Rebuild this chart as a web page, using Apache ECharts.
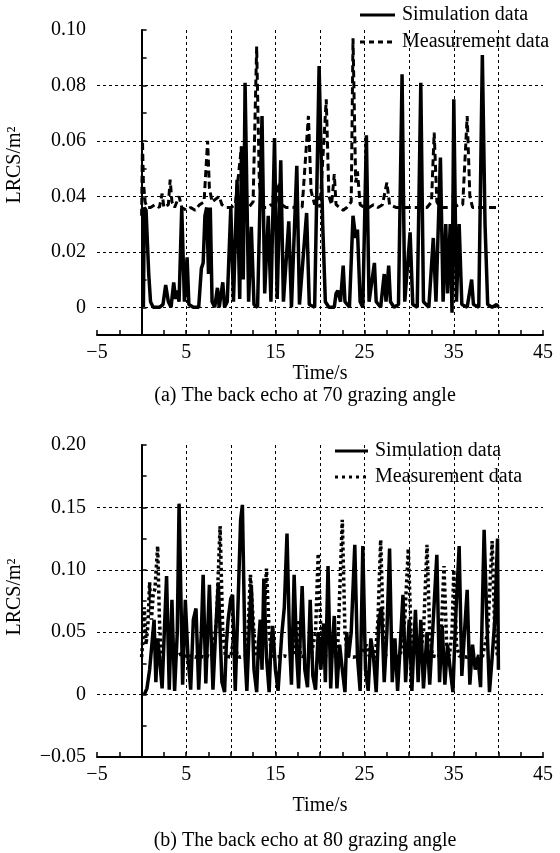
<!DOCTYPE html>
<html>
<head>
<meta charset="utf-8">
<title>LRCS back echo</title>
<script src="https://cdn.jsdelivr.net/npm/echarts@6.0.0/dist/echarts.min.js"></script>
<style>
  html, body { margin: 0; padding: 0; background: #fff; }
  #chart { width: 560px; height: 853px; }
</style>
</head>
<body>
<div id="chart"></div>
<script>
// [time (s), LRCS (m^2)]
const simulation70 = [
  [0.2, 0], [0.3, 0.036], [0.5, 0.035], [0.8, 0.012], [1.0, 0.002], [1.3, 0], [2.0, 0], [2.4, 0.001], [2.7, 0.008],
  [3.0, 0.002], [3.3, 0], [3.6, 0.009], [3.8, 0.003], [4.0, 0.006], [4.2, 0.002], [4.5, 0.036], [4.8, 0.002],
  [5.1, 0.018], [5.3, 0.001], [5.8, 0], [6.4, 0], [6.7, 0.014], [6.9, 0.016], [7.1, 0.033], [7.3, 0.036],
  [7.5, 0.012], [7.7, 0.036], [7.9, 0.002], [8.2, 0], [8.5, 0.007], [8.7, 0], [9.1, 0.009], [9.3, 0], [9.6, 0.002],
  [10.0, 0.036], [10.3, 0.002], [10.7, 0.046], [11.0, 0.003], [11.2, 0.058], [11.4, 0.01], [11.6, 0.081],
  [12.0, 0.002], [12.3, 0.029], [12.6, 0.001], [13.0, 0], [13.5, 0.069], [13.8, 0.005], [14.2, 0.033],
  [14.5, 0.002], [14.9, 0.061], [15.2, 0.003], [15.6, 0.053], [15.9, 0.002], [16.5, 0.031], [16.8, 0],
  [17.4, 0.051], [17.7, 0.001], [18.5, 0.034], [18.8, 0.001], [19.4, 0], [19.9, 0.087], [20.3, 0.03],
  [20.6, 0.002], [21.0, 0], [21.6, 0], [21.8, 0.005], [22.0, 0.006], [22.3, 0.002], [22.6, 0.015], [22.8, 0.002],
  [23.3, 0], [23.7, 0.033], [24.0, 0.025], [24.2, 0.028], [24.5, 0.002], [24.8, 0], [25.2, 0.062], [25.5, 0.002],
  [26.1, 0.016], [26.3, 0.002], [26.8, 0], [27.2, 0.012], [27.4, 0.002], [27.7, 0.015], [27.9, 0.002], [28.3, 0],
  [28.8, 0.001], [29.2, 0.084], [29.5, 0.002], [30.1, 0.027], [30.4, 0.001], [30.9, 0], [31.3, 0.081],
  [31.6, 0.002], [32.2, 0], [32.7, 0.025], [33.0, 0.002], [33.5, 0.054], [33.8, 0.002], [34.1, 0.03],
  [34.3, 0.005], [34.6, 0.03], [34.8, -0.002], [35.0, 0.075], [35.3, 0.002], [35.6, 0.03], [35.9, 0.001],
  [36.5, 0], [37.0, 0.01], [37.2, 0.001], [37.8, 0], [38.2, 0.091], [38.5, 0.03], [38.8, 0.001], [39.3, 0],
  [39.8, 0.001], [40.0, 0]
];
const measurement70 = [
  [0.0, 0.033], [0.1, 0.06], [0.2, 0.045], [0.4, 0.038], [0.6, 0.036], [1.0, 0.036], [1.5, 0.037], [2.0, 0.036],
  [2.3, 0.041], [2.5, 0.036], [3.0, 0.037], [3.2, 0.046], [3.4, 0.038], [3.7, 0.036], [4.2, 0.04], [4.5, 0.036],
  [5.0, 0.035], [5.5, 0.036], [6.0, 0.035], [6.5, 0.037], [7.0, 0.038], [7.4, 0.06], [7.6, 0.043], [7.9, 0.038],
  [8.3, 0.039], [8.7, 0.04], [9.0, 0.037], [9.5, 0.036], [10.0, 0.036], [10.5, 0.037], [11.2, 0.058],
  [11.5, 0.038], [12.0, 0.036], [12.5, 0.038], [12.9, 0.094], [13.2, 0.045], [13.5, 0.036], [14.0, 0.036],
  [14.5, 0.037], [15.0, 0.036], [15.4, 0.045], [15.7, 0.037], [16.2, 0.036], [17.0, 0.036], [17.5, 0.037],
  [18.0, 0.036], [18.7, 0.069], [19.0, 0.042], [19.4, 0.037], [19.7, 0.04], [20.0, 0.036], [20.7, 0.075],
  [21.0, 0.04], [21.3, 0.037], [21.6, 0.048], [21.8, 0.037], [22.2, 0.036], [22.6, 0.035], [23.0, 0.036],
  [23.5, 0.038], [23.7, 0.097], [24.0, 0.045], [24.2, 0.049], [24.5, 0.037], [25.0, 0.036], [25.5, 0.036],
  [26.0, 0.037], [26.5, 0.036], [27.0, 0.037], [27.5, 0.045], [27.8, 0.037], [28.5, 0.036], [29.0, 0.036],
  [29.5, 0.036], [30.0, 0.036], [30.5, 0.036], [31.0, 0.036], [31.5, 0.036], [32.0, 0.036], [32.5, 0.038],
  [32.8, 0.063], [33.1, 0.038], [33.5, 0.036], [34.0, 0.036], [34.5, 0.036], [35.0, 0.036], [35.5, 0.037],
  [36.0, 0.037], [36.5, 0.069], [36.8, 0.04], [37.1, 0.036], [37.5, 0.036], [38.0, 0.036], [38.5, 0.036],
  [39.0, 0.036], [39.5, 0.036], [40.0, 0.036]
];
const simulation80 = [
  [0.3, 0], [0.6, 0.005], [0.9, 0.02], [1.1, 0.036], [1.4, 0.06], [1.6, 0.01], [1.8, 0.045], [2.0, 0.03],
  [2.3, 0.005], [2.6, 0.06], [2.8, 0.095], [3.1, 0.004], [3.4, 0.076], [3.7, 0.003], [4.0, 0.05], [4.2, 0.153],
  [4.6, 0.008], [4.9, 0.076], [5.2, 0.03], [5.5, 0.004], [5.8, 0.06], [6.1, 0.069], [6.4, 0.004], [6.7, 0.05],
  [6.9, 0.096], [7.2, 0.009], [7.6, 0.088], [8.0, 0.004], [8.3, 0.05], [8.6, 0.09], [9.0, 0.01], [9.3, 0.002],
  [9.5, 0.04], [9.7, 0.06], [10.0, 0.077], [10.2, 0.08], [10.5, 0.003], [10.8, 0.07], [11.1, 0.14],
  [11.3, 0.152], [11.6, 0.03], [11.8, 0.003], [12.1, 0.06], [12.3, 0.088], [12.6, 0.02], [12.9, 0.002],
  [13.1, 0.04], [13.3, 0.06], [13.5, 0.02], [13.7, 0.093], [14.0, 0.03], [14.3, 0.002], [14.5, 0.04],
  [14.7, 0.055], [15.0, 0.02], [15.3, 0.003], [15.7, 0.047], [16.0, 0.07], [16.3, 0.129], [16.6, 0.04],
  [16.8, 0.008], [17.1, 0.096], [17.4, 0.03], [17.6, 0.005], [17.8, 0.05], [18.0, 0.087], [18.3, 0.02],
  [18.6, 0.006], [18.9, 0.076], [19.2, 0.015], [19.5, 0.004], [19.8, 0.05], [20.1, 0.02], [20.4, 0.057],
  [20.6, 0.01], [20.9, 0.103], [21.2, 0.005], [21.4, 0.04], [21.6, 0.063], [21.9, 0.005], [22.2, 0.04],
  [22.5, 0.02], [22.8, 0.002], [23.0, 0.05], [23.2, 0.03], [23.5, 0.05], [23.9, 0.12], [24.2, 0.03],
  [24.5, 0.003], [24.8, 0.119], [25.1, 0.02], [25.4, 0.003], [25.7, 0.045], [26.0, 0.03], [26.3, 0.002],
  [26.6, 0.06], [26.9, 0.07], [27.2, 0.01], [27.5, 0.05], [27.8, 0.117], [28.1, 0.01], [28.4, 0.045],
  [28.7, 0.003], [29.0, 0.04], [29.3, 0.08], [29.6, 0.01], [30.0, 0.06], [30.3, 0.003], [30.7, 0.068],
  [31.0, 0.01], [31.3, 0.06], [31.6, 0.005], [32.0, 0.05], [32.3, 0.008], [32.7, 0.06], [33.1, 0.112],
  [33.4, 0.01], [33.7, 0.055], [34.0, 0.008], [34.3, 0.04], [34.6, 0.02], [34.9, 0.002], [35.2, 0.06],
  [35.6, 0.119], [35.9, 0.015], [36.2, 0.05], [36.5, 0.084], [36.8, 0.008], [37.1, 0.04], [37.4, 0.02],
  [37.7, 0.03], [38.0, 0.006], [38.4, 0.132], [38.7, 0.06], [39.0, 0.002], [39.3, 0.03], [39.6, 0.06],
  [39.9, 0.125], [40.0, 0.02]
];
const measurement80 = [
  [0.0, 0.03], [0.2, 0.05], [0.3, 0.07], [0.5, 0.04], [0.7, 0.055], [0.9, 0.09], [1.1, 0.06], [1.3, 0.08],
  [1.5, 0.085], [1.8, 0.119], [2.0, 0.06], [2.2, 0.031], [2.6, 0.03], [3.0, 0.031], [3.5, 0.03], [4.0, 0.031],
  [4.5, 0.033], [5.0, 0.03], [5.5, 0.031], [6.0, 0.03], [6.5, 0.031], [7.0, 0.03], [7.5, 0.031], [8.0, 0.03],
  [8.4, 0.06], [8.8, 0.135], [9.1, 0.05], [9.4, 0.031], [10.0, 0.03], [10.4, 0.05], [10.7, 0.031], [11.0, 0.03],
  [11.8, 0.031], [12.2, 0.096], [12.5, 0.06], [12.8, 0.031], [13.5, 0.03], [14.0, 0.101], [14.3, 0.05],
  [14.6, 0.031], [15.2, 0.03], [16.0, 0.031], [16.5, 0.03], [17.0, 0.031], [17.5, 0.06], [17.8, 0.031],
  [18.5, 0.03], [19.0, 0.031], [19.5, 0.05], [19.8, 0.113], [20.1, 0.05], [20.4, 0.031], [21.0, 0.03],
  [21.5, 0.031], [22.0, 0.04], [22.5, 0.14], [22.8, 0.05], [23.1, 0.031], [23.7, 0.03], [24.5, 0.031],
  [25.2, 0.04], [25.5, 0.031], [26.2, 0.03], [26.5, 0.06], [26.8, 0.124], [27.1, 0.05], [27.4, 0.031],
  [28.3, 0.03], [29.0, 0.031], [29.5, 0.06], [29.9, 0.117], [30.2, 0.05], [30.5, 0.031], [31.2, 0.03],
  [31.6, 0.05], [32.0, 0.12], [32.3, 0.05], [32.6, 0.031], [33.3, 0.03], [33.6, 0.05], [33.9, 0.103],
  [34.2, 0.04], [34.5, 0.031], [34.8, 0.05], [35.0, 0.1], [35.3, 0.04], [35.6, 0.031], [36.5, 0.03],
  [37.5, 0.031], [38.2, 0.03], [38.8, 0.05], [39.3, 0.123], [39.6, 0.05], [39.9, 0.031]
];

const seriesNames = ["Simulation data", "Measurement data"];
const captions = ["(a) The back echo at 70 grazing angle", "(b) The back echo at 80 grazing angle"];
const xTickLabels = [-5, 5, 15, 25, 35, 45];
const yTickLabels70 = [0, 0.02, 0.04, 0.06, 0.08, 0.1];

const font = "Liberation Serif";
const black = "#000";
const txt = { fontFamily: font, fontSize: 20, color: black };
const gfont = `20px "${font}"`;

const minus = (s) => s.replace("-", "\u2212");

function xAxisFor(gridIndex, nameGap) {
  return {
    type: "value",
    gridIndex,
    min: -5,
    max: 45,
    interval: 5,
    name: "Time/s",
    nameLocation: "middle",
    nameGap,
    nameTextStyle: txt,
    axisLine: { show: true, onZero: false, lineStyle: { color: black, width: 2 } },
    axisTick: { show: true, inside: true, length: 5, lineStyle: { color: black, width: 1.5 } },
    minorTick: { show: true, splitNumber: 2, length: 5, lineStyle: { color: black, width: 1.5 } },
    axisLabel: {
      ...txt,
      margin: 8,
      formatter: (v) => (xTickLabels.includes(Math.round(v)) ? minus(String(Math.round(v))) : ""),
    },
    splitLine: {
      show: true,
      showMinLine: false,
      showMaxLine: false,
      lineStyle: { color: black, width: 1, type: [3, 3] },
    },
  };
}

// legend drawn by hand: a short line sample and its text
function legendRows(x, y, len, gap, dashes) {
  const out = [];
  seriesNames.forEach((name, i) => {
    const yy = y + i * gap;
    out.push({
      type: "line",
      shape: { x1: x, y1: yy, x2: x + len, y2: yy },
      style: { stroke: black, lineWidth: 3, lineDash: dashes[i] },
    });
    out.push({
      type: "text",
      x: x + len + 7,
      y: yy,
      style: { text: name, font: gfont, fill: black, align: "left", verticalAlign: "middle" },
    });
  });
  return out;
}

const chart = echarts.init(document.getElementById("chart"));

const option = {
  animation: false,
  backgroundColor: "#fff",
  grid: [
    { left: 97, top: 30, width: 446, height: 305 },
    { left: 97, top: 445, width: 446, height: 312 },
  ],
  xAxis: [xAxisFor(0, 27), xAxisFor(1, 39)],
  yAxis: [
    {
      type: "value",
      gridIndex: 0,
      min: -0.01,
      max: 0.1,
      interval: 0.01,
      axisLine: { show: true, lineStyle: { color: black, width: 2 } },
      axisTick: { show: true, inside: true, length: 5, lineStyle: { color: black, width: 1.5 } },
      axisLabel: {
        ...txt,
        margin: 11,
        formatter: (v) => {
          const hit = yTickLabels70.find((t) => Math.abs(t - v) < 1e-6);
          if (hit === undefined) return "";
          return hit === 0 ? "0" : hit.toFixed(2);
        },
      },
      splitLine: {
        show: true,
        showMinLine: false,
        showMaxLine: false,
        lineStyle: { color: [black, "transparent"], width: 1, type: [3, 3] },
      },
    },
    {
      type: "value",
      gridIndex: 1,
      min: -0.05,
      max: 0.2,
      interval: 0.05,
      axisLine: { show: true, lineStyle: { color: black, width: 2 } },
      axisTick: { show: true, inside: true, length: 5, lineStyle: { color: black, width: 1.5 } },
      minorTick: { show: true, splitNumber: 2, length: 5, lineStyle: { color: black, width: 1.5 } },
      axisLabel: {
        ...txt,
        margin: 11,
        formatter: (v) => (Math.abs(v) < 1e-6 ? "0" : minus(v.toFixed(2))),
      },
      splitLine: {
        show: true,
        showMinLine: false,
        showMaxLine: false,
        lineStyle: { color: black, width: 1, type: [3, 3] },
      },
    },
  ],
  series: [
    {
      name: seriesNames[0],
      type: "line",
      xAxisIndex: 0,
      yAxisIndex: 0,
      data: simulation70,
      symbol: "none",
      lineStyle: { color: black, width: 3.5 },
      z: 3,
    },
    {
      name: seriesNames[1],
      type: "line",
      xAxisIndex: 0,
      yAxisIndex: 0,
      data: measurement70,
      symbol: "none",
      lineStyle: { color: black, width: 3, type: [7, 4] },
      z: 2,
    },
    {
      name: seriesNames[0],
      type: "line",
      xAxisIndex: 1,
      yAxisIndex: 1,
      data: simulation80,
      symbol: "none",
      lineStyle: { color: black, width: 3.5 },
      z: 3,
    },
    {
      name: seriesNames[1],
      type: "line",
      xAxisIndex: 1,
      yAxisIndex: 1,
      data: measurement80,
      symbol: "none",
      lineStyle: { color: black, width: 3.5, type: [3, 3] },
      z: 2,
    },
  ],
  graphic: [
    ...legendRows(360, 15, 35, 27, [null, [5, 4]]),
    ...legendRows(335, 451, 33, 26, [null, [3, 4]]),
    {
      type: "text",
      x: 15,
      y: 165,
      rotation: Math.PI / 2,
      style: { text: "LRCS/m\u00b2", font: gfont, fill: black, align: "center", verticalAlign: "middle" },
    },
    {
      type: "text",
      x: 15,
      y: 597,
      rotation: Math.PI / 2,
      style: { text: "LRCS/m\u00b2", font: gfont, fill: black, align: "center", verticalAlign: "middle" },
    },
    {
      type: "text",
      x: 305,
      y: 396,
      style: { text: captions[0], font: gfont, fill: black, align: "center", verticalAlign: "middle" },
    },
    {
      type: "text",
      x: 305,
      y: 841,
      style: { text: captions[1], font: gfont, fill: black, align: "center", verticalAlign: "middle" },
    },
  ],
};

chart.setOption(option);
</script>
</body>
</html>
